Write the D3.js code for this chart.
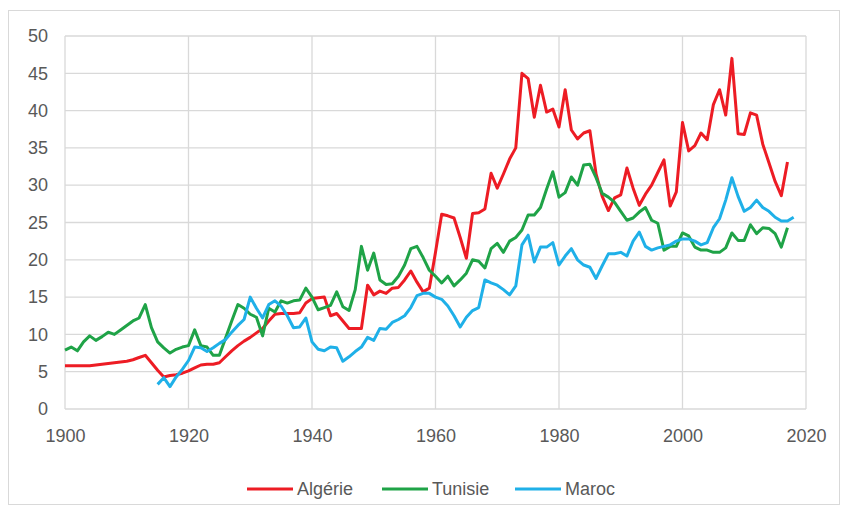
<!DOCTYPE html>
<html>
<head>
<meta charset="utf-8">
<script src="https://cdn.jsdelivr.net/npm/d3@7"></script>
<style>
  body { margin: 0; background: #fff; }
  text { font-family: "Liberation Sans", Arial, sans-serif; fill: #595959; }
</style>
</head>
<body>
<svg id="chart" width="847" height="510"></svg>
<script>
// values
const series_names = ["Algérie", "Tunisie", "Maroc"];
const series_colors = ["#ed1c24", "#1fa347", "#1fb0e8"];

const algerie_start = 1900;
const algerie = [
  5.8, 5.8, 5.8, 5.8, 5.8, 5.9, 6.0, 6.1, 6.2, 6.3,
  6.4, 6.6, 6.9, 7.2, 6.2, 5.2, 4.3, 4.5, 4.6, 4.8,
  5.1, 5.5, 5.9, 6.0, 6.0, 6.2, 7.0, 7.8, 8.5, 9.1,
  9.6, 10.2, 10.8, 11.8, 12.7, 12.8, 12.8, 12.8, 12.9, 14.2,
  14.8, 14.9, 15.0, 12.5, 12.8, 11.8, 10.8, 10.8, 10.8, 16.6,
  15.3, 15.8, 15.5, 16.2, 16.3, 17.3, 18.5, 17.0, 15.7, 16.2,
  21.0, 26.1, 25.9, 25.6, 23.0, 20.2, 26.2, 26.3, 26.8, 31.6,
  29.6, 31.5, 33.5, 35.0, 45.0, 44.3, 39.1, 43.4, 39.8, 40.2,
  37.8, 42.8, 37.4, 36.2, 37.0, 37.3, 31.5, 28.5, 26.6, 28.3,
  28.7, 32.3, 29.6, 27.3, 28.8, 30.0, 31.7, 33.4, 27.2, 29.1,
  38.4, 34.6, 35.3, 37.0, 36.1, 40.8, 42.8, 39.4, 47.0, 36.9,
  36.8, 39.7, 39.4, 35.5, 33.0, 30.5, 28.6, 33.1
];

const tunisie_start = 1900;
const tunisie = [
  7.9, 8.3, 7.8, 9.0, 9.8, 9.2, 9.7, 10.3, 10.0, 10.6,
  11.2, 11.8, 12.2, 14.0, 10.9, 9.0, 8.2, 7.5, 8.0, 8.3,
  8.5, 10.6, 8.5, 8.3, 7.2, 7.2, 9.5, 11.8, 14.0, 13.5,
  12.7, 12.3, 9.8, 13.5, 13.0, 14.5, 14.2, 14.5, 14.6, 16.2,
  15.0, 13.3, 13.6, 13.9, 15.7, 13.7, 13.2, 16.0, 21.8, 18.6,
  20.9, 17.3, 16.7, 16.8, 17.8, 19.3, 21.5, 21.8, 20.3, 18.6,
  17.8, 16.9, 17.8, 16.5, 17.3, 18.2, 20.0, 19.8, 18.9, 21.5,
  22.2, 21.0, 22.5, 23.0, 24.0, 26.0, 26.0, 27.0, 29.5, 31.8,
  28.4, 29.0, 31.1, 30.0, 32.7, 32.8, 31.0, 28.9, 28.4, 27.7,
  26.5, 25.3, 25.6, 26.4, 27.0, 25.3, 24.9, 21.3, 21.8, 21.8,
  23.6, 23.2, 21.7, 21.3, 21.3, 21.0, 21.0, 21.6, 23.6, 22.6,
  22.6, 24.7, 23.5, 24.3, 24.2, 23.5, 21.7, 24.3
];

const maroc_start = 1915;
const maroc = [
  3.3, 4.2, 3.0, 4.3, 5.3,
  6.5, 8.3, 8.2, 7.7, 8.2, 8.8, 9.3, 10.3, 11.2, 12.0,
  15.0, 13.5, 12.2, 14.0, 14.5, 13.8, 12.5, 10.9, 11.0, 12.2,
  9.0, 8.0, 7.8, 8.3, 8.2, 6.4, 7.0, 7.7, 8.3, 9.6,
  9.2, 10.8, 10.7, 11.6, 12.0, 12.5, 13.6, 15.2, 15.5, 15.5,
  15.0, 14.7, 13.8, 12.5, 11.0, 12.3, 13.2, 13.6, 17.3, 16.9,
  16.6, 16.0, 15.3, 16.5, 22.0, 23.3, 19.7, 21.7, 21.7, 22.3,
  19.3, 20.5, 21.5, 20.0, 19.3, 19.0, 17.5, 19.2, 20.8, 20.8,
  21.0, 20.5, 22.5, 23.7, 21.8, 21.3, 21.6, 21.8, 22.0, 22.5,
  22.8, 22.8, 22.5, 22.0, 22.3, 24.3, 25.5, 28.0, 31.0, 28.5,
  26.5, 27.0, 28.0, 27.0, 26.5, 25.7, 25.2, 25.2, 25.7
];

const x_ticks = [1900, 1920, 1940, 1960, 1980, 2000, 2020];
const y_ticks = [0, 5, 10, 15, 20, 25, 30, 35, 40, 45, 50];

function to_points(start, values) {
    return values.map((v, i) => ({ year: start + i, value: v }));
}
const all_series = [
    to_points(algerie_start, algerie),
    to_points(tunisie_start, tunisie),
    to_points(maroc_start, maroc)
];

const svg = d3.select("#chart");

// outer frame
svg.append("rect")
    .attr("x", 8.5).attr("y", 10.5)
    .attr("width", 831).attr("height", 494)
    .attr("fill", "#fff")
    .attr("stroke", "#d9d9d9");

const x = d3.scaleLinear().domain([1900, 2020]).range([65, 806]);
const y = d3.scaleLinear().domain([0, 50]).range([409, 36]);

// grid
svg.append("g")
    .selectAll("line.h")
    .data(y_ticks)
    .enter()
    .append("line")
    .attr("x1", x(1900)).attr("x2", x(2020))
    .attr("y1", d => y(d)).attr("y2", d => y(d))
    .attr("stroke", "#d9d9d9")
    .attr("stroke-width", 1.3);

svg.append("g")
    .selectAll("line.v")
    .data(x_ticks)
    .enter()
    .append("line")
    .attr("x1", d => x(d)).attr("x2", d => x(d))
    .attr("y1", y(0)).attr("y2", y(50))
    .attr("stroke", "#d9d9d9")
    .attr("stroke-width", 1.3);

// axes (labels only)
const x_axis = svg.append("g")
    .attr("transform", `translate(0,${y(0)})`)
    .call(d3.axisBottom(x).tickValues(x_ticks).tickFormat(d3.format("d")).tickSize(0).tickPadding(20));
x_axis.select(".domain").remove();

const y_axis = svg.append("g")
    .attr("transform", `translate(${x(1900)},0)`)
    .call(d3.axisLeft(y).tickValues(y_ticks).tickSize(0).tickPadding(17));
y_axis.select(".domain").remove();

svg.selectAll(".tick text")
    .attr("font-size", 18)
    .attr("font-family", "Liberation Sans, Arial, sans-serif")
    .attr("fill", "#595959");

// lines
const line = d3.line()
    .x(d => x(d.year))
    .y(d => y(d.value));

svg.append("g")
    .selectAll("path")
    .data(all_series)
    .enter()
    .append("path")
    .attr("d", line)
    .attr("fill", "none")
    .attr("stroke", (d, i) => series_colors[i])
    .attr("stroke-width", 3)
    .attr("stroke-linejoin", "round");

// legend
const legend_x = [247, 382, 515];
const legend = svg.append("g")
    .selectAll("g")
    .data(series_names)
    .enter()
    .append("g")
    .attr("transform", (d, i) => `translate(${legend_x[i]},489)`);

legend.append("line")
    .attr("x1", 0).attr("x2", 46)
    .attr("stroke", (d, i) => series_colors[i])
    .attr("stroke-width", 3);

legend.append("text")
    .attr("x", 50)
    .attr("dy", "0.35em")
    .attr("font-size", 18)
    .text(d => d);
</script>
</body>
</html>
